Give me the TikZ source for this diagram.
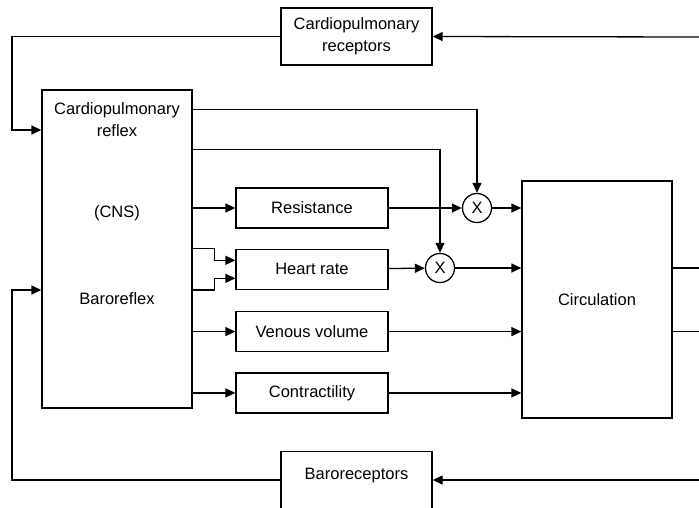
\documentclass[tikz,border=0pt]{standalone}
\usepackage{fontspec}
\setmainfont{Liberation Sans}
\usetikzlibrary{positioning,arrows.meta}

\begin{document}
\begin{tikzpicture}[
  x=1pt, y=-1pt,
  font=\fontsize{16.5}{22}\selectfont,
  >={Triangle[length=10pt,width=9pt]},
  line width=1.3pt,
  block/.style={
    rectangle, draw, align=center, inner sep=2pt,
    minimum width=152pt, minimum height=40pt
  },
  mult/.style={
    circle, draw, inner sep=0pt, minimum size=29pt
  },
  arrow/.style={->}
]

\clip (0,0) rectangle (699,507);

% Sensors and central nervous system
\node[block, minimum width=151pt, minimum height=57pt] (cpr) at (356.5,36.5) {Cardiopulmonary\\receptors};
\node[block, minimum width=150pt, minimum height=318pt] (cns) at (117,249) {};
\node[align=center] (cnsTop) at (117,120) {Cardiopulmonary\\reflex};
\node (cnsMid) at (117,213) {(CNS)};
\node (cnsBot) at (117,299) {Baroreflex};

% Effectors
\node[block] (res) at (312,208) {Resistance};
\node[block, below=20pt of res] (hr) {Heart rate};
\node[block, below=21pt of hr] (vv) {Venous volume};
\node[block, below=20pt of vv] (con) {Contractility};

\node[mult] (m1) at (477,208) {X};
\node[mult] (m2) at (440,268) {X};

\node[block, minimum width=150pt, minimum height=237pt] (circ) at (597,299.5) {Circulation};

\node[block, minimum width=151pt, minimum height=70pt, anchor=north] (bar) at (356.5,451) {};
\node (barText) at (356.5,476) {Baroreceptors};

% free ends and corners
\coordinate (cprIn) at (699,37);
\coordinate (barIn) at (699,480);
\coordinate (topLoop) at (12,130);
\coordinate (botLoop) at (12,290);
\coordinate (edgeR) at (699,0);

% --- edges ---
\draw[arrow] (cprIn) -- (cpr.east);
\draw[arrow] (cpr.west) -| (topLoop) -- (topLoop -| cns.west);
\draw[arrow] (barIn) -- (barIn -| bar.east);
\draw[arrow] (barIn -| bar.west) -| (botLoop) -- (botLoop -| cns.west);

% reflex outputs
\draw[arrow] ([yshift=-20pt]cns.north east) -| (m1.north);
\draw[arrow] ([yshift=-60pt]cns.north east) -| (m2.north);
\draw[arrow] (cns.east |- res.west) -- (res.west);
\draw[arrow] (cns.east |- hr.north) -- ++(22,0) |- ([yshift=9pt]hr.west);
\draw[arrow] (cns.east |- hr.south) -- ++(22,0) |- ([yshift=-9pt]hr.west);
\draw[arrow] (cns.east |- vv.west) -- (vv.west);
\draw[arrow] (cns.east |- con.west) -- (con.west);

% into circulation
\draw[arrow] (res) -- (m1);
\draw[arrow] (m1) -- (m1 -| circ.west);
\draw[arrow] (hr) -- (m2);
\draw[arrow] (m2) -- (m2 -| circ.west);
\draw[arrow] (vv) -- (vv -| circ.west);
\draw[arrow] (con) -- (con -| circ.west);

% outputs
\draw (circ.east |- m2) -- (edgeR |- m2);
\draw (circ.east |- vv) -- (edgeR |- vv);

\end{tikzpicture}
\end{document}
